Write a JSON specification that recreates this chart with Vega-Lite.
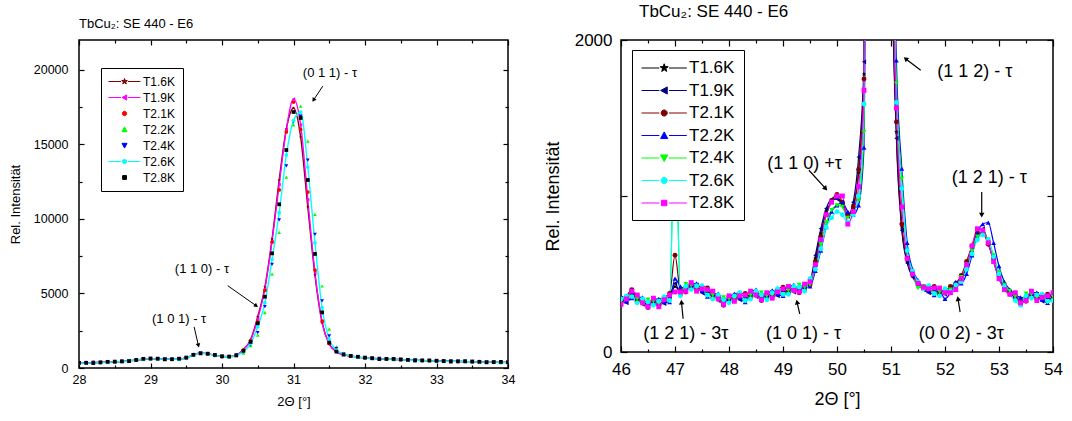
{
"$schema": "https://vega.github.io/schema/vega-lite/v6.json",
"background": "white",
"padding": {"left": 8, "top": 2, "right": 5, "bottom": 0},
"config": {
 "font": "Liberation Sans",
 "view": {"stroke": "black", "strokeWidth": 1.5},
 "axis": {"grid": false, "domain": false, "tickColor": "black", "tickWidth": 1.2, "labelColor": "black", "titleColor": "black", "titleFontWeight": "normal", "labelFont": "Liberation Sans", "titleFont": "Liberation Sans", "labelFlush": false, "labelOverlap": false},
 "legend": {"labelFont": "Liberation Sans", "labelColor": "black", "strokeColor": "black", "fillColor": "white", "symbolStrokeWidth": 1, "symbolOpacity": 1},
 "title": {"font": "Liberation Sans", "color": "black", "fontWeight": "normal", "anchor": "start", "frame": "group"}
},
"resolve": {"scale": {"color": "independent", "shape": "independent", "fill": "independent", "stroke": "independent"}, "legend": {"shape": "independent", "color": "independent", "fill": "independent", "stroke": "independent"}},
"spacing": 27,
"datasets": {
"L": [
{"s":"T1.6K","x":28,"y":330},{"s":"T1.6K","x":28.1,"y":345},{"s":"T1.6K","x":28.2,"y":355},{"s":"T1.6K","x":28.3,"y":370},{"s":"T1.6K","x":28.4,"y":390},{"s":"T1.6K","x":28.5,"y":410},{"s":"T1.6K","x":28.6,"y":440},{"s":"T1.6K","x":28.7,"y":480},{"s":"T1.6K","x":28.8,"y":530},{"s":"T1.6K","x":28.9,"y":590},{"s":"T1.6K","x":29,"y":620},{"s":"T1.6K","x":29.1,"y":620},{"s":"T1.6K","x":29.2,"y":600},{"s":"T1.6K","x":29.3,"y":580},{"s":"T1.6K","x":29.4,"y":600},{"s":"T1.6K","x":29.5,"y":680},{"s":"T1.6K","x":29.6,"y":880},{"s":"T1.6K","x":29.7,"y":1000},{"s":"T1.6K","x":29.8,"y":950},{"s":"T1.6K","x":29.9,"y":850},{"s":"T1.6K","x":30,"y":770},{"s":"T1.6K","x":30.1,"y":760},{"s":"T1.6K","x":30.2,"y":860},{"s":"T1.6K","x":30.3,"y":1250},{"s":"T1.6K","x":30.4,"y":1900},{"s":"T1.6K","x":30.5,"y":3440},{"s":"T1.6K","x":30.6,"y":5430},{"s":"T1.6K","x":30.7,"y":8650},{"s":"T1.6K","x":30.8,"y":12610},{"s":"T1.6K","x":30.9,"y":16040},{"s":"T1.6K","x":31,"y":17440},{"s":"T1.6K","x":31.1,"y":15490},{"s":"T1.6K","x":31.2,"y":10800},{"s":"T1.6K","x":31.3,"y":6240},{"s":"T1.6K","x":31.4,"y":3040},{"s":"T1.6K","x":31.5,"y":1610},{"s":"T1.6K","x":31.6,"y":1100},{"s":"T1.6K","x":31.7,"y":900},{"s":"T1.6K","x":31.8,"y":800},{"s":"T1.6K","x":31.9,"y":730},{"s":"T1.6K","x":32,"y":680},{"s":"T1.6K","x":32.1,"y":650},{"s":"T1.6K","x":32.2,"y":620},{"s":"T1.6K","x":32.3,"y":600},{"s":"T1.6K","x":32.4,"y":580},{"s":"T1.6K","x":32.5,"y":560},{"s":"T1.6K","x":32.6,"y":540},{"s":"T1.6K","x":32.7,"y":520},{"s":"T1.6K","x":32.8,"y":500},{"s":"T1.6K","x":32.9,"y":485},{"s":"T1.6K","x":33,"y":470},{"s":"T1.6K","x":33.1,"y":460},{"s":"T1.6K","x":33.2,"y":450},{"s":"T1.6K","x":33.3,"y":440},{"s":"T1.6K","x":33.4,"y":430},{"s":"T1.6K","x":33.5,"y":420},{"s":"T1.6K","x":33.6,"y":410},{"s":"T1.6K","x":33.7,"y":400},{"s":"T1.6K","x":33.8,"y":390},{"s":"T1.6K","x":33.9,"y":380},{"s":"T1.6K","x":34,"y":370},
{"s":"T1.9K","x":28,"y":340},{"s":"T1.9K","x":28.1,"y":330},{"s":"T1.9K","x":28.2,"y":360},{"s":"T1.9K","x":28.3,"y":390},{"s":"T1.9K","x":28.4,"y":380},{"s":"T1.9K","x":28.5,"y":420},{"s":"T1.9K","x":28.6,"y":425},{"s":"T1.9K","x":28.7,"y":485},{"s":"T1.9K","x":28.8,"y":550},{"s":"T1.9K","x":28.9,"y":580},{"s":"T1.9K","x":29,"y":630},{"s":"T1.9K","x":29.1,"y":605},{"s":"T1.9K","x":29.2,"y":605},{"s":"T1.9K","x":29.3,"y":600},{"s":"T1.9K","x":29.4,"y":590},{"s":"T1.9K","x":29.5,"y":690},{"s":"T1.9K","x":29.6,"y":865},{"s":"T1.9K","x":29.7,"y":1005},{"s":"T1.9K","x":29.8,"y":970},{"s":"T1.9K","x":29.9,"y":840},{"s":"T1.9K","x":30,"y":780},{"s":"T1.9K","x":30.1,"y":745},{"s":"T1.9K","x":30.2,"y":865},{"s":"T1.9K","x":30.3,"y":1230},{"s":"T1.9K","x":30.4,"y":1850},{"s":"T1.9K","x":30.5,"y":3300},{"s":"T1.9K","x":30.6,"y":5300},{"s":"T1.9K","x":30.7,"y":8500},{"s":"T1.9K","x":30.8,"y":12300},{"s":"T1.9K","x":30.9,"y":16000},{"s":"T1.9K","x":31,"y":18040},{"s":"T1.9K","x":31.1,"y":16300},{"s":"T1.9K","x":31.2,"y":11300},{"s":"T1.9K","x":31.3,"y":6400},{"s":"T1.9K","x":31.4,"y":3100},{"s":"T1.9K","x":31.5,"y":1600},{"s":"T1.9K","x":31.6,"y":1080},{"s":"T1.9K","x":31.7,"y":880},{"s":"T1.9K","x":31.8,"y":820},{"s":"T1.9K","x":31.9,"y":720},{"s":"T1.9K","x":32,"y":690},{"s":"T1.9K","x":32.1,"y":635},{"s":"T1.9K","x":32.2,"y":625},{"s":"T1.9K","x":32.3,"y":620},{"s":"T1.9K","x":32.4,"y":570},{"s":"T1.9K","x":32.5,"y":570},{"s":"T1.9K","x":32.6,"y":525},{"s":"T1.9K","x":32.7,"y":525},{"s":"T1.9K","x":32.8,"y":520},{"s":"T1.9K","x":32.9,"y":475},{"s":"T1.9K","x":33,"y":480},{"s":"T1.9K","x":33.1,"y":445},{"s":"T1.9K","x":33.2,"y":455},{"s":"T1.9K","x":33.3,"y":460},{"s":"T1.9K","x":33.4,"y":420},{"s":"T1.9K","x":33.5,"y":430},{"s":"T1.9K","x":33.6,"y":395},{"s":"T1.9K","x":33.7,"y":405},{"s":"T1.9K","x":33.8,"y":410},{"s":"T1.9K","x":33.9,"y":370},{"s":"T1.9K","x":34,"y":380},
{"s":"T2.1K","x":28,"y":310},{"s":"T2.1K","x":28.1,"y":355},{"s":"T2.1K","x":28.2,"y":370},{"s":"T2.1K","x":28.3,"y":365},{"s":"T2.1K","x":28.4,"y":390},{"s":"T2.1K","x":28.5,"y":390},{"s":"T2.1K","x":28.6,"y":450},{"s":"T2.1K","x":28.7,"y":495},{"s":"T2.1K","x":28.8,"y":525},{"s":"T2.1K","x":28.9,"y":590},{"s":"T2.1K","x":29,"y":600},{"s":"T2.1K","x":29.1,"y":630},{"s":"T2.1K","x":29.2,"y":615},{"s":"T2.1K","x":29.3,"y":575},{"s":"T2.1K","x":29.4,"y":600},{"s":"T2.1K","x":29.5,"y":660},{"s":"T2.1K","x":29.6,"y":890},{"s":"T2.1K","x":29.7,"y":1015},{"s":"T2.1K","x":29.8,"y":945},{"s":"T2.1K","x":29.9,"y":850},{"s":"T2.1K","x":30,"y":750},{"s":"T2.1K","x":30.1,"y":770},{"s":"T2.1K","x":30.2,"y":875},{"s":"T2.1K","x":30.3,"y":1220},{"s":"T2.1K","x":30.4,"y":1820},{"s":"T2.1K","x":30.5,"y":3100},{"s":"T2.1K","x":30.6,"y":5200},{"s":"T2.1K","x":30.7,"y":8450},{"s":"T2.1K","x":30.8,"y":11940},{"s":"T2.1K","x":30.9,"y":15830},{"s":"T2.1K","x":31,"y":17840},{"s":"T2.1K","x":31.1,"y":16000},{"s":"T2.1K","x":31.2,"y":11800},{"s":"T2.1K","x":31.3,"y":6570},{"s":"T2.1K","x":31.4,"y":3150},{"s":"T2.1K","x":31.5,"y":1650},{"s":"T2.1K","x":31.6,"y":1120},{"s":"T2.1K","x":31.7,"y":910},{"s":"T2.1K","x":31.8,"y":795},{"s":"T2.1K","x":31.9,"y":730},{"s":"T2.1K","x":32,"y":660},{"s":"T2.1K","x":32.1,"y":660},{"s":"T2.1K","x":32.2,"y":635},{"s":"T2.1K","x":32.3,"y":595},{"s":"T2.1K","x":32.4,"y":580},{"s":"T2.1K","x":32.5,"y":540},{"s":"T2.1K","x":32.6,"y":550},{"s":"T2.1K","x":32.7,"y":535},{"s":"T2.1K","x":32.8,"y":495},{"s":"T2.1K","x":32.9,"y":485},{"s":"T2.1K","x":33,"y":450},{"s":"T2.1K","x":33.1,"y":470},{"s":"T2.1K","x":33.2,"y":465},{"s":"T2.1K","x":33.3,"y":435},{"s":"T2.1K","x":33.4,"y":430},{"s":"T2.1K","x":33.5,"y":400},{"s":"T2.1K","x":33.6,"y":420},{"s":"T2.1K","x":33.7,"y":415},{"s":"T2.1K","x":33.8,"y":385},{"s":"T2.1K","x":33.9,"y":380},{"s":"T2.1K","x":34,"y":350},
{"s":"T2.2K","x":28,"y":345},{"s":"T2.2K","x":28.1,"y":370},{"s":"T2.2K","x":28.2,"y":345},{"s":"T2.2K","x":28.3,"y":375},{"s":"T2.2K","x":28.4,"y":420},{"s":"T2.2K","x":28.5,"y":425},{"s":"T2.2K","x":28.6,"y":465},{"s":"T2.2K","x":28.7,"y":470},{"s":"T2.2K","x":28.8,"y":535},{"s":"T2.2K","x":28.9,"y":620},{"s":"T2.2K","x":29,"y":635},{"s":"T2.2K","x":29.1,"y":645},{"s":"T2.2K","x":29.2,"y":590},{"s":"T2.2K","x":29.3,"y":585},{"s":"T2.2K","x":29.4,"y":630},{"s":"T2.2K","x":29.5,"y":695},{"s":"T2.2K","x":29.6,"y":905},{"s":"T2.2K","x":29.7,"y":990},{"s":"T2.2K","x":29.8,"y":955},{"s":"T2.2K","x":29.9,"y":880},{"s":"T2.2K","x":30,"y":785},{"s":"T2.2K","x":30.1,"y":785},{"s":"T2.2K","x":30.2,"y":850},{"s":"T2.2K","x":30.3,"y":1000},{"s":"T2.2K","x":30.4,"y":1500},{"s":"T2.2K","x":30.5,"y":2210},{"s":"T2.2K","x":30.6,"y":3710},{"s":"T2.2K","x":30.7,"y":6300},{"s":"T2.2K","x":30.8,"y":9100},{"s":"T2.2K","x":30.9,"y":12810},{"s":"T2.2K","x":31,"y":16300},{"s":"T2.2K","x":31.1,"y":17570},{"s":"T2.2K","x":31.2,"y":15220},{"s":"T2.2K","x":31.3,"y":10310},{"s":"T2.2K","x":31.4,"y":5500},{"s":"T2.2K","x":31.5,"y":2600},{"s":"T2.2K","x":31.6,"y":1430},{"s":"T2.2K","x":31.7,"y":1000},{"s":"T2.2K","x":31.8,"y":805},{"s":"T2.2K","x":31.9,"y":760},{"s":"T2.2K","x":32,"y":695},{"s":"T2.2K","x":32.1,"y":675},{"s":"T2.2K","x":32.2,"y":610},{"s":"T2.2K","x":32.3,"y":605},{"s":"T2.2K","x":32.4,"y":610},{"s":"T2.2K","x":32.5,"y":575},{"s":"T2.2K","x":32.6,"y":565},{"s":"T2.2K","x":32.7,"y":510},{"s":"T2.2K","x":32.8,"y":505},{"s":"T2.2K","x":32.9,"y":515},{"s":"T2.2K","x":33,"y":485},{"s":"T2.2K","x":33.1,"y":485},{"s":"T2.2K","x":33.2,"y":440},{"s":"T2.2K","x":33.3,"y":445},{"s":"T2.2K","x":33.4,"y":460},{"s":"T2.2K","x":33.5,"y":435},{"s":"T2.2K","x":33.6,"y":435},{"s":"T2.2K","x":33.7,"y":390},{"s":"T2.2K","x":33.8,"y":395},{"s":"T2.2K","x":33.9,"y":410},{"s":"T2.2K","x":34,"y":385},
{"s":"T2.4K","x":28,"y":320},{"s":"T2.4K","x":28.1,"y":345},{"s":"T2.4K","x":28.2,"y":375},{"s":"T2.4K","x":28.3,"y":345},{"s":"T2.4K","x":28.4,"y":400},{"s":"T2.4K","x":28.5,"y":400},{"s":"T2.4K","x":28.6,"y":440},{"s":"T2.4K","x":28.7,"y":500},{"s":"T2.4K","x":28.8,"y":505},{"s":"T2.4K","x":28.9,"y":600},{"s":"T2.4K","x":29,"y":610},{"s":"T2.4K","x":29.1,"y":620},{"s":"T2.4K","x":29.2,"y":620},{"s":"T2.4K","x":29.3,"y":555},{"s":"T2.4K","x":29.4,"y":610},{"s":"T2.4K","x":29.5,"y":670},{"s":"T2.4K","x":29.6,"y":880},{"s":"T2.4K","x":29.7,"y":1020},{"s":"T2.4K","x":29.8,"y":925},{"s":"T2.4K","x":29.9,"y":860},{"s":"T2.4K","x":30,"y":760},{"s":"T2.4K","x":30.1,"y":760},{"s":"T2.4K","x":30.2,"y":880},{"s":"T2.4K","x":30.3,"y":1050},{"s":"T2.4K","x":30.4,"y":1550},{"s":"T2.4K","x":30.5,"y":2370},{"s":"T2.4K","x":30.6,"y":4110},{"s":"T2.4K","x":30.7,"y":6950},{"s":"T2.4K","x":30.8,"y":9930},{"s":"T2.4K","x":30.9,"y":13550},{"s":"T2.4K","x":31,"y":16500},{"s":"T2.4K","x":31.1,"y":16900},{"s":"T2.4K","x":31.2,"y":13950},{"s":"T2.4K","x":31.3,"y":8970},{"s":"T2.4K","x":31.4,"y":4510},{"s":"T2.4K","x":31.5,"y":2150},{"s":"T2.4K","x":31.6,"y":1300},{"s":"T2.4K","x":31.7,"y":950},{"s":"T2.4K","x":31.8,"y":775},{"s":"T2.4K","x":31.9,"y":740},{"s":"T2.4K","x":32,"y":670},{"s":"T2.4K","x":32.1,"y":650},{"s":"T2.4K","x":32.2,"y":640},{"s":"T2.4K","x":32.3,"y":575},{"s":"T2.4K","x":32.4,"y":590},{"s":"T2.4K","x":32.5,"y":550},{"s":"T2.4K","x":32.6,"y":540},{"s":"T2.4K","x":32.7,"y":540},{"s":"T2.4K","x":32.8,"y":475},{"s":"T2.4K","x":32.9,"y":495},{"s":"T2.4K","x":33,"y":460},{"s":"T2.4K","x":33.1,"y":460},{"s":"T2.4K","x":33.2,"y":470},{"s":"T2.4K","x":33.3,"y":415},{"s":"T2.4K","x":33.4,"y":440},{"s":"T2.4K","x":33.5,"y":410},{"s":"T2.4K","x":33.6,"y":410},{"s":"T2.4K","x":33.7,"y":420},{"s":"T2.4K","x":33.8,"y":365},{"s":"T2.4K","x":33.9,"y":390},{"s":"T2.4K","x":34,"y":360},
{"s":"T2.6K","x":28,"y":335},{"s":"T2.6K","x":28.1,"y":325},{"s":"T2.6K","x":28.2,"y":350},{"s":"T2.6K","x":28.3,"y":385},{"s":"T2.6K","x":28.4,"y":375},{"s":"T2.6K","x":28.5,"y":415},{"s":"T2.6K","x":28.6,"y":420},{"s":"T2.6K","x":28.7,"y":475},{"s":"T2.6K","x":28.8,"y":545},{"s":"T2.6K","x":28.9,"y":575},{"s":"T2.6K","x":29,"y":625},{"s":"T2.6K","x":29.1,"y":600},{"s":"T2.6K","x":29.2,"y":595},{"s":"T2.6K","x":29.3,"y":595},{"s":"T2.6K","x":29.4,"y":585},{"s":"T2.6K","x":29.5,"y":685},{"s":"T2.6K","x":29.6,"y":860},{"s":"T2.6K","x":29.7,"y":995},{"s":"T2.6K","x":29.8,"y":965},{"s":"T2.6K","x":29.9,"y":835},{"s":"T2.6K","x":30,"y":775},{"s":"T2.6K","x":30.1,"y":740},{"s":"T2.6K","x":30.2,"y":855},{"s":"T2.6K","x":30.3,"y":1100},{"s":"T2.6K","x":30.4,"y":1650},{"s":"T2.6K","x":30.5,"y":2770},{"s":"T2.6K","x":30.6,"y":4380},{"s":"T2.6K","x":30.7,"y":7290},{"s":"T2.6K","x":30.8,"y":10420},{"s":"T2.6K","x":30.9,"y":14290},{"s":"T2.6K","x":31,"y":16600},{"s":"T2.6K","x":31.1,"y":17170},{"s":"T2.6K","x":31.2,"y":13480},{"s":"T2.6K","x":31.3,"y":8400},{"s":"T2.6K","x":31.4,"y":4040},{"s":"T2.6K","x":31.5,"y":1920},{"s":"T2.6K","x":31.6,"y":1200},{"s":"T2.6K","x":31.7,"y":930},{"s":"T2.6K","x":31.8,"y":815},{"s":"T2.6K","x":31.9,"y":715},{"s":"T2.6K","x":32,"y":685},{"s":"T2.6K","x":32.1,"y":630},{"s":"T2.6K","x":32.2,"y":615},{"s":"T2.6K","x":32.3,"y":615},{"s":"T2.6K","x":32.4,"y":565},{"s":"T2.6K","x":32.5,"y":565},{"s":"T2.6K","x":32.6,"y":520},{"s":"T2.6K","x":32.7,"y":515},{"s":"T2.6K","x":32.8,"y":515},{"s":"T2.6K","x":32.9,"y":470},{"s":"T2.6K","x":33,"y":475},{"s":"T2.6K","x":33.1,"y":440},{"s":"T2.6K","x":33.2,"y":445},{"s":"T2.6K","x":33.3,"y":455},{"s":"T2.6K","x":33.4,"y":415},{"s":"T2.6K","x":33.5,"y":425},{"s":"T2.6K","x":33.6,"y":390},{"s":"T2.6K","x":33.7,"y":395},{"s":"T2.6K","x":33.8,"y":405},{"s":"T2.6K","x":33.9,"y":365},{"s":"T2.6K","x":34,"y":375},
{"s":"T2.8K","x":28,"y":350},{"s":"T2.8K","x":28.1,"y":350},{"s":"T2.8K","x":28.2,"y":335},{"s":"T2.8K","x":28.3,"y":380},{"s":"T2.8K","x":28.4,"y":415},{"s":"T2.8K","x":28.5,"y":430},{"s":"T2.8K","x":28.6,"y":445},{"s":"T2.8K","x":28.7,"y":460},{"s":"T2.8K","x":28.8,"y":540},{"s":"T2.8K","x":28.9,"y":615},{"s":"T2.8K","x":29,"y":640},{"s":"T2.8K","x":29.1,"y":625},{"s":"T2.8K","x":29.2,"y":580},{"s":"T2.8K","x":29.3,"y":590},{"s":"T2.8K","x":29.4,"y":625},{"s":"T2.8K","x":29.5,"y":700},{"s":"T2.8K","x":29.6,"y":885},{"s":"T2.8K","x":29.7,"y":980},{"s":"T2.8K","x":29.8,"y":960},{"s":"T2.8K","x":29.9,"y":875},{"s":"T2.8K","x":30,"y":790},{"s":"T2.8K","x":30.1,"y":765},{"s":"T2.8K","x":30.2,"y":840},{"s":"T2.8K","x":30.3,"y":1150},{"s":"T2.8K","x":30.4,"y":1750},{"s":"T2.8K","x":30.5,"y":3000},{"s":"T2.8K","x":30.6,"y":4780},{"s":"T2.8K","x":30.7,"y":7690},{"s":"T2.8K","x":30.8,"y":10980},{"s":"T2.8K","x":30.9,"y":14620},{"s":"T2.8K","x":31,"y":17170},{"s":"T2.8K","x":31.1,"y":16770},{"s":"T2.8K","x":31.2,"y":12610},{"s":"T2.8K","x":31.3,"y":7650},{"s":"T2.8K","x":31.4,"y":3730},{"s":"T2.8K","x":31.5,"y":1700},{"s":"T2.8K","x":31.6,"y":1100},{"s":"T2.8K","x":31.7,"y":900},{"s":"T2.8K","x":31.8,"y":810},{"s":"T2.8K","x":31.9,"y":755},{"s":"T2.8K","x":32,"y":700},{"s":"T2.8K","x":32.1,"y":655},{"s":"T2.8K","x":32.2,"y":600},{"s":"T2.8K","x":32.3,"y":610},{"s":"T2.8K","x":32.4,"y":605},{"s":"T2.8K","x":32.5,"y":580},{"s":"T2.8K","x":32.6,"y":545},{"s":"T2.8K","x":32.7,"y":500},{"s":"T2.8K","x":32.8,"y":510},{"s":"T2.8K","x":32.9,"y":510},{"s":"T2.8K","x":33,"y":490},{"s":"T2.8K","x":33.1,"y":465},{"s":"T2.8K","x":33.2,"y":430},{"s":"T2.8K","x":33.3,"y":450},{"s":"T2.8K","x":33.4,"y":455},{"s":"T2.8K","x":33.5,"y":440},{"s":"T2.8K","x":33.6,"y":415},{"s":"T2.8K","x":33.7,"y":380},{"s":"T2.8K","x":33.8,"y":400},{"s":"T2.8K","x":33.9,"y":405},{"s":"T2.8K","x":34,"y":390}
],
"R": [
{"s":"T1.6K","x":46,"y":330},{"s":"T1.6K","x":46.1,"y":335},{"s":"T1.6K","x":46.2,"y":370},{"s":"T1.6K","x":46.3,"y":335},{"s":"T1.6K","x":46.4,"y":320},{"s":"T1.6K","x":46.5,"y":310},{"s":"T1.6K","x":46.6,"y":325},{"s":"T1.6K","x":46.7,"y":315},{"s":"T1.6K","x":46.8,"y":330},{"s":"T1.6K","x":46.9,"y":345},{"s":"T1.6K","x":47,"y":420},{"s":"T1.6K","x":47.1,"y":390},{"s":"T1.6K","x":47.2,"y":410},{"s":"T1.6K","x":47.3,"y":425},{"s":"T1.6K","x":47.4,"y":415},{"s":"T1.6K","x":47.5,"y":400},{"s":"T1.6K","x":47.6,"y":380},{"s":"T1.6K","x":47.7,"y":360},{"s":"T1.6K","x":47.8,"y":345},{"s":"T1.6K","x":47.9,"y":325},{"s":"T1.6K","x":48,"y":340},{"s":"T1.6K","x":48.1,"y":350},{"s":"T1.6K","x":48.2,"y":355},{"s":"T1.6K","x":48.3,"y":345},{"s":"T1.6K","x":48.4,"y":360},{"s":"T1.6K","x":48.5,"y":370},{"s":"T1.6K","x":48.6,"y":355},{"s":"T1.6K","x":48.7,"y":360},{"s":"T1.6K","x":48.8,"y":370},{"s":"T1.6K","x":48.9,"y":380},{"s":"T1.6K","x":49,"y":385},{"s":"T1.6K","x":49.1,"y":390},{"s":"T1.6K","x":49.2,"y":400},{"s":"T1.6K","x":49.3,"y":405},{"s":"T1.6K","x":49.4,"y":415},{"s":"T1.6K","x":49.5,"y":440},{"s":"T1.6K","x":49.6,"y":600},{"s":"T1.6K","x":49.7,"y":760},{"s":"T1.6K","x":49.8,"y":900},{"s":"T1.6K","x":49.9,"y":960},{"s":"T1.6K","x":50,"y":990},{"s":"T1.6K","x":50.1,"y":950},{"s":"T1.6K","x":50.2,"y":880},{"s":"T1.6K","x":50.3,"y":940},{"s":"T1.6K","x":50.4,"y":1150},{"s":"T1.6K","x":50.5,"y":1780},{"s":"T1.6K","x":50.6,"y":6000},{"s":"T1.6K","x":50.7,"y":14000},{"s":"T1.6K","x":50.8,"y":15500},{"s":"T1.6K","x":50.9,"y":8500},{"s":"T1.6K","x":51,"y":3000},{"s":"T1.6K","x":51.1,"y":1410},{"s":"T1.6K","x":51.2,"y":800},{"s":"T1.6K","x":51.3,"y":580},{"s":"T1.6K","x":51.4,"y":490},{"s":"T1.6K","x":51.5,"y":440},{"s":"T1.6K","x":51.6,"y":415},{"s":"T1.6K","x":51.7,"y":400},{"s":"T1.6K","x":51.8,"y":390},{"s":"T1.6K","x":51.9,"y":380},{"s":"T1.6K","x":52,"y":385},{"s":"T1.6K","x":52.1,"y":395},{"s":"T1.6K","x":52.2,"y":420},{"s":"T1.6K","x":52.3,"y":470},{"s":"T1.6K","x":52.4,"y":540},{"s":"T1.6K","x":52.5,"y":640},{"s":"T1.6K","x":52.6,"y":740},{"s":"T1.6K","x":52.7,"y":770},{"s":"T1.6K","x":52.8,"y":700},{"s":"T1.6K","x":52.9,"y":590},{"s":"T1.6K","x":53,"y":480},{"s":"T1.6K","x":53.1,"y":420},{"s":"T1.6K","x":53.2,"y":380},{"s":"T1.6K","x":53.3,"y":350},{"s":"T1.6K","x":53.4,"y":320},{"s":"T1.6K","x":53.5,"y":350},{"s":"T1.6K","x":53.6,"y":370},{"s":"T1.6K","x":53.7,"y":355},{"s":"T1.6K","x":53.8,"y":345},{"s":"T1.6K","x":53.9,"y":340},{"s":"T1.6K","x":54,"y":350},
{"s":"T1.9K","x":46,"y":345},{"s":"T1.9K","x":46.1,"y":315},{"s":"T1.9K","x":46.2,"y":380},{"s":"T1.9K","x":46.3,"y":360},{"s":"T1.9K","x":46.4,"y":305},{"s":"T1.9K","x":46.5,"y":315},{"s":"T1.9K","x":46.6,"y":315},{"s":"T1.9K","x":46.7,"y":330},{"s":"T1.9K","x":46.8,"y":310},{"s":"T1.9K","x":46.9,"y":355},{"s":"T1.9K","x":47,"y":440},{"s":"T1.9K","x":47.1,"y":375},{"s":"T1.9K","x":47.2,"y":415},{"s":"T1.9K","x":47.3,"y":415},{"s":"T1.9K","x":47.4,"y":430},{"s":"T1.9K","x":47.5,"y":380},{"s":"T1.9K","x":47.6,"y":390},{"s":"T1.9K","x":47.7,"y":385},{"s":"T1.9K","x":47.8,"y":330},{"s":"T1.9K","x":47.9,"y":330},{"s":"T1.9K","x":48,"y":330},{"s":"T1.9K","x":48.1,"y":365},{"s":"T1.9K","x":48.2,"y":335},{"s":"T1.9K","x":48.3,"y":355},{"s":"T1.9K","x":48.4,"y":385},{"s":"T1.9K","x":48.5,"y":355},{"s":"T1.9K","x":48.6,"y":360},{"s":"T1.9K","x":48.7,"y":350},{"s":"T1.9K","x":48.8,"y":385},{"s":"T1.9K","x":48.9,"y":360},{"s":"T1.9K","x":49,"y":395},{"s":"T1.9K","x":49.1,"y":415},{"s":"T1.9K","x":49.2,"y":385},{"s":"T1.9K","x":49.3,"y":410},{"s":"T1.9K","x":49.4,"y":405},{"s":"T1.9K","x":49.5,"y":450},{"s":"T1.9K","x":49.6,"y":620},{"s":"T1.9K","x":49.7,"y":790},{"s":"T1.9K","x":49.8,"y":920},{"s":"T1.9K","x":49.9,"y":980},{"s":"T1.9K","x":50,"y":980},{"s":"T1.9K","x":50.1,"y":940},{"s":"T1.9K","x":50.2,"y":870},{"s":"T1.9K","x":50.3,"y":960},{"s":"T1.9K","x":50.4,"y":1250},{"s":"T1.9K","x":50.5,"y":1860},{"s":"T1.9K","x":50.6,"y":6500},{"s":"T1.9K","x":50.7,"y":14500},{"s":"T1.9K","x":50.8,"y":15000},{"s":"T1.9K","x":50.9,"y":8000},{"s":"T1.9K","x":51,"y":2900},{"s":"T1.9K","x":51.1,"y":1370},{"s":"T1.9K","x":51.2,"y":780},{"s":"T1.9K","x":51.3,"y":570},{"s":"T1.9K","x":51.4,"y":480},{"s":"T1.9K","x":51.5,"y":430},{"s":"T1.9K","x":51.6,"y":400},{"s":"T1.9K","x":51.7,"y":380},{"s":"T1.9K","x":51.8,"y":400},{"s":"T1.9K","x":51.9,"y":405},{"s":"T1.9K","x":52,"y":370},{"s":"T1.9K","x":52.1,"y":410},{"s":"T1.9K","x":52.2,"y":430},{"s":"T1.9K","x":52.3,"y":480},{"s":"T1.9K","x":52.4,"y":560},{"s":"T1.9K","x":52.5,"y":670},{"s":"T1.9K","x":52.6,"y":780},{"s":"T1.9K","x":52.7,"y":790},{"s":"T1.9K","x":52.8,"y":700},{"s":"T1.9K","x":52.9,"y":580},{"s":"T1.9K","x":53,"y":470},{"s":"T1.9K","x":53.1,"y":410},{"s":"T1.9K","x":53.2,"y":370},{"s":"T1.9K","x":53.3,"y":375},{"s":"T1.9K","x":53.4,"y":305},{"s":"T1.9K","x":53.5,"y":355},{"s":"T1.9K","x":53.6,"y":360},{"s":"T1.9K","x":53.7,"y":370},{"s":"T1.9K","x":53.8,"y":325},{"s":"T1.9K","x":53.9,"y":350},{"s":"T1.9K","x":54,"y":375},
{"s":"T2.1K","x":46,"y":315},{"s":"T2.1K","x":46.1,"y":355},{"s":"T2.1K","x":46.2,"y":400},{"s":"T2.1K","x":46.3,"y":325},{"s":"T2.1K","x":46.4,"y":325},{"s":"T2.1K","x":46.5,"y":285},{"s":"T2.1K","x":46.6,"y":340},{"s":"T2.1K","x":46.7,"y":300},{"s":"T2.1K","x":46.8,"y":350},{"s":"T2.1K","x":46.9,"y":375},{"s":"T2.1K","x":47,"y":620},{"s":"T2.1K","x":47.1,"y":395},{"s":"T2.1K","x":47.2,"y":385},{"s":"T2.1K","x":47.3,"y":440},{"s":"T2.1K","x":47.4,"y":400},{"s":"T2.1K","x":47.5,"y":420},{"s":"T2.1K","x":47.6,"y":410},{"s":"T2.1K","x":47.7,"y":350},{"s":"T2.1K","x":47.8,"y":350},{"s":"T2.1K","x":47.9,"y":300},{"s":"T2.1K","x":48,"y":355},{"s":"T2.1K","x":48.1,"y":335},{"s":"T2.1K","x":48.2,"y":375},{"s":"T2.1K","x":48.3,"y":375},{"s":"T2.1K","x":48.4,"y":350},{"s":"T2.1K","x":48.5,"y":375},{"s":"T2.1K","x":48.6,"y":330},{"s":"T2.1K","x":48.7,"y":375},{"s":"T2.1K","x":48.8,"y":355},{"s":"T2.1K","x":48.9,"y":400},{"s":"T2.1K","x":49,"y":415},{"s":"T2.1K","x":49.1,"y":380},{"s":"T2.1K","x":49.2,"y":405},{"s":"T2.1K","x":49.3,"y":380},{"s":"T2.1K","x":49.4,"y":430},{"s":"T2.1K","x":49.5,"y":430},{"s":"T2.1K","x":49.6,"y":580},{"s":"T2.1K","x":49.7,"y":740},{"s":"T2.1K","x":49.8,"y":880},{"s":"T2.1K","x":49.9,"y":970},{"s":"T2.1K","x":50,"y":1010},{"s":"T2.1K","x":50.1,"y":960},{"s":"T2.1K","x":50.2,"y":880},{"s":"T2.1K","x":50.3,"y":930},{"s":"T2.1K","x":50.4,"y":1170},{"s":"T2.1K","x":50.5,"y":1750},{"s":"T2.1K","x":50.6,"y":6200},{"s":"T2.1K","x":50.7,"y":14200},{"s":"T2.1K","x":50.8,"y":15200},{"s":"T2.1K","x":50.9,"y":8300},{"s":"T2.1K","x":51,"y":3100},{"s":"T2.1K","x":51.1,"y":1475},{"s":"T2.1K","x":51.2,"y":820},{"s":"T2.1K","x":51.3,"y":600},{"s":"T2.1K","x":51.4,"y":500},{"s":"T2.1K","x":51.5,"y":445},{"s":"T2.1K","x":51.6,"y":420},{"s":"T2.1K","x":51.7,"y":420},{"s":"T2.1K","x":51.8,"y":420},{"s":"T2.1K","x":51.9,"y":370},{"s":"T2.1K","x":52,"y":390},{"s":"T2.1K","x":52.1,"y":420},{"s":"T2.1K","x":52.2,"y":440},{"s":"T2.1K","x":52.3,"y":490},{"s":"T2.1K","x":52.4,"y":580},{"s":"T2.1K","x":52.5,"y":680},{"s":"T2.1K","x":52.6,"y":760},{"s":"T2.1K","x":52.7,"y":760},{"s":"T2.1K","x":52.8,"y":690},{"s":"T2.1K","x":52.9,"y":600},{"s":"T2.1K","x":53,"y":490},{"s":"T2.1K","x":53.1,"y":420},{"s":"T2.1K","x":53.2,"y":390},{"s":"T2.1K","x":53.3,"y":340},{"s":"T2.1K","x":53.4,"y":325},{"s":"T2.1K","x":53.5,"y":325},{"s":"T2.1K","x":53.6,"y":385},{"s":"T2.1K","x":53.7,"y":340},{"s":"T2.1K","x":53.8,"y":365},{"s":"T2.1K","x":53.9,"y":370},{"s":"T2.1K","x":54,"y":340},
{"s":"T2.2K","x":46,"y":355},{"s":"T2.2K","x":46.1,"y":325},{"s":"T2.2K","x":46.2,"y":345},{"s":"T2.2K","x":46.3,"y":350},{"s":"T2.2K","x":46.4,"y":350},{"s":"T2.2K","x":46.5,"y":305},{"s":"T2.2K","x":46.6,"y":335},{"s":"T2.2K","x":46.7,"y":340},{"s":"T2.2K","x":46.8,"y":320},{"s":"T2.2K","x":46.9,"y":320},{"s":"T2.2K","x":47,"y":470},{"s":"T2.2K","x":47.1,"y":420},{"s":"T2.2K","x":47.2,"y":405},{"s":"T2.2K","x":47.3,"y":435},{"s":"T2.2K","x":47.4,"y":440},{"s":"T2.2K","x":47.5,"y":390},{"s":"T2.2K","x":47.6,"y":355},{"s":"T2.2K","x":47.7,"y":375},{"s":"T2.2K","x":47.8,"y":375},{"s":"T2.2K","x":47.9,"y":320},{"s":"T2.2K","x":48,"y":350},{"s":"T2.2K","x":48.1,"y":375},{"s":"T2.2K","x":48.2,"y":345},{"s":"T2.2K","x":48.3,"y":320},{"s":"T2.2K","x":48.4,"y":375},{"s":"T2.2K","x":48.5,"y":400},{"s":"T2.2K","x":48.6,"y":350},{"s":"T2.2K","x":48.7,"y":370},{"s":"T2.2K","x":48.8,"y":395},{"s":"T2.2K","x":48.9,"y":370},{"s":"T2.2K","x":49,"y":360},{"s":"T2.2K","x":49.1,"y":405},{"s":"T2.2K","x":49.2,"y":430},{"s":"T2.2K","x":49.3,"y":400},{"s":"T2.2K","x":49.4,"y":425},{"s":"T2.2K","x":49.5,"y":420},{"s":"T2.2K","x":49.6,"y":520},{"s":"T2.2K","x":49.7,"y":650},{"s":"T2.2K","x":49.8,"y":800},{"s":"T2.2K","x":49.9,"y":900},{"s":"T2.2K","x":50,"y":940},{"s":"T2.2K","x":50.1,"y":960},{"s":"T2.2K","x":50.2,"y":900},{"s":"T2.2K","x":50.3,"y":880},{"s":"T2.2K","x":50.4,"y":940},{"s":"T2.2K","x":50.5,"y":1310},{"s":"T2.2K","x":50.6,"y":4500},{"s":"T2.2K","x":50.7,"y":12000},{"s":"T2.2K","x":50.8,"y":16000},{"s":"T2.2K","x":50.9,"y":10000},{"s":"T2.2K","x":51,"y":4200},{"s":"T2.2K","x":51.1,"y":1870},{"s":"T2.2K","x":51.2,"y":1175},{"s":"T2.2K","x":51.3,"y":700},{"s":"T2.2K","x":51.4,"y":530},{"s":"T2.2K","x":51.5,"y":460},{"s":"T2.2K","x":51.6,"y":410},{"s":"T2.2K","x":51.7,"y":390},{"s":"T2.2K","x":51.8,"y":365},{"s":"T2.2K","x":51.9,"y":395},{"s":"T2.2K","x":52,"y":340},{"s":"T2.2K","x":52.1,"y":380},{"s":"T2.2K","x":52.2,"y":450},{"s":"T2.2K","x":52.3,"y":440},{"s":"T2.2K","x":52.4,"y":500},{"s":"T2.2K","x":52.5,"y":620},{"s":"T2.2K","x":52.6,"y":760},{"s":"T2.2K","x":52.7,"y":820},{"s":"T2.2K","x":52.8,"y":830},{"s":"T2.2K","x":52.9,"y":700},{"s":"T2.2K","x":53,"y":550},{"s":"T2.2K","x":53.1,"y":450},{"s":"T2.2K","x":53.2,"y":400},{"s":"T2.2K","x":53.3,"y":365},{"s":"T2.2K","x":53.4,"y":350},{"s":"T2.2K","x":53.5,"y":345},{"s":"T2.2K","x":53.6,"y":380},{"s":"T2.2K","x":53.7,"y":380},{"s":"T2.2K","x":53.8,"y":335},{"s":"T2.2K","x":53.9,"y":315},{"s":"T2.2K","x":54,"y":365},
{"s":"T2.4K","x":46,"y":325},{"s":"T2.4K","x":46.1,"y":350},{"s":"T2.4K","x":46.2,"y":350},{"s":"T2.4K","x":46.3,"y":340},{"s":"T2.4K","x":46.4,"y":305},{"s":"T2.4K","x":46.5,"y":335},{"s":"T2.4K","x":46.6,"y":325},{"s":"T2.4K","x":46.7,"y":310},{"s":"T2.4K","x":46.8,"y":345},{"s":"T2.4K","x":46.9,"y":325},{"s":"T2.4K","x":47,"y":1600},{"s":"T2.4K","x":47.1,"y":375},{"s":"T2.4K","x":47.2,"y":435},{"s":"T2.4K","x":47.3,"y":425},{"s":"T2.4K","x":47.4,"y":410},{"s":"T2.4K","x":47.5,"y":415},{"s":"T2.4K","x":47.6,"y":360},{"s":"T2.4K","x":47.7,"y":365},{"s":"T2.4K","x":47.8,"y":330},{"s":"T2.4K","x":47.9,"y":350},{"s":"T2.4K","x":48,"y":340},{"s":"T2.4K","x":48.1,"y":345},{"s":"T2.4K","x":48.2,"y":370},{"s":"T2.4K","x":48.3,"y":325},{"s":"T2.4K","x":48.4,"y":365},{"s":"T2.4K","x":48.5,"y":355},{"s":"T2.4K","x":48.6,"y":380},{"s":"T2.4K","x":48.7,"y":360},{"s":"T2.4K","x":48.8,"y":365},{"s":"T2.4K","x":48.9,"y":395},{"s":"T2.4K","x":49,"y":365},{"s":"T2.4K","x":49.1,"y":395},{"s":"T2.4K","x":49.2,"y":385},{"s":"T2.4K","x":49.3,"y":430},{"s":"T2.4K","x":49.4,"y":415},{"s":"T2.4K","x":49.5,"y":430},{"s":"T2.4K","x":49.6,"y":540},{"s":"T2.4K","x":49.7,"y":690},{"s":"T2.4K","x":49.8,"y":830},{"s":"T2.4K","x":49.9,"y":910},{"s":"T2.4K","x":50,"y":940},{"s":"T2.4K","x":50.1,"y":930},{"s":"T2.4K","x":50.2,"y":860},{"s":"T2.4K","x":50.3,"y":900},{"s":"T2.4K","x":50.4,"y":970},{"s":"T2.4K","x":50.5,"y":1410},{"s":"T2.4K","x":50.6,"y":5000},{"s":"T2.4K","x":50.7,"y":12800},{"s":"T2.4K","x":50.8,"y":15800},{"s":"T2.4K","x":50.9,"y":9500},{"s":"T2.4K","x":51,"y":3800},{"s":"T2.4K","x":51.1,"y":1720},{"s":"T2.4K","x":51.2,"y":1110},{"s":"T2.4K","x":51.3,"y":640},{"s":"T2.4K","x":51.4,"y":510},{"s":"T2.4K","x":51.5,"y":410},{"s":"T2.4K","x":51.6,"y":420},{"s":"T2.4K","x":51.7,"y":415},{"s":"T2.4K","x":51.8,"y":370},{"s":"T2.4K","x":51.9,"y":385},{"s":"T2.4K","x":52,"y":370},{"s":"T2.4K","x":52.1,"y":400},{"s":"T2.4K","x":52.2,"y":420},{"s":"T2.4K","x":52.3,"y":480},{"s":"T2.4K","x":52.4,"y":560},{"s":"T2.4K","x":52.5,"y":650},{"s":"T2.4K","x":52.6,"y":740},{"s":"T2.4K","x":52.7,"y":770},{"s":"T2.4K","x":52.8,"y":720},{"s":"T2.4K","x":52.9,"y":620},{"s":"T2.4K","x":53,"y":510},{"s":"T2.4K","x":53.1,"y":430},{"s":"T2.4K","x":53.2,"y":390},{"s":"T2.4K","x":53.3,"y":355},{"s":"T2.4K","x":53.4,"y":305},{"s":"T2.4K","x":53.5,"y":375},{"s":"T2.4K","x":53.6,"y":370},{"s":"T2.4K","x":53.7,"y":350},{"s":"T2.4K","x":53.8,"y":360},{"s":"T2.4K","x":53.9,"y":320},{"s":"T2.4K","x":54,"y":355},
{"s":"T2.6K","x":46,"y":340},{"s":"T2.6K","x":46.1,"y":360},{"s":"T2.6K","x":46.2,"y":355},{"s":"T2.6K","x":46.3,"y":315},{"s":"T2.6K","x":46.4,"y":340},{"s":"T2.6K","x":46.5,"y":320},{"s":"T2.6K","x":46.6,"y":300},{"s":"T2.6K","x":46.7,"y":325},{"s":"T2.6K","x":46.8,"y":355},{"s":"T2.6K","x":46.9,"y":330},{"s":"T2.6K","x":47,"y":1500},{"s":"T2.6K","x":47.1,"y":360},{"s":"T2.6K","x":47.2,"y":420},{"s":"T2.6K","x":47.3,"y":400},{"s":"T2.6K","x":47.4,"y":425},{"s":"T2.6K","x":47.5,"y":425},{"s":"T2.6K","x":47.6,"y":365},{"s":"T2.6K","x":47.7,"y":340},{"s":"T2.6K","x":47.8,"y":365},{"s":"T2.6K","x":47.9,"y":335},{"s":"T2.6K","x":48,"y":315},{"s":"T2.6K","x":48.1,"y":360},{"s":"T2.6K","x":48.2,"y":380},{"s":"T2.6K","x":48.3,"y":330},{"s":"T2.6K","x":48.4,"y":340},{"s":"T2.6K","x":48.5,"y":390},{"s":"T2.6K","x":48.6,"y":365},{"s":"T2.6K","x":48.7,"y":335},{"s":"T2.6K","x":48.8,"y":380},{"s":"T2.6K","x":48.9,"y":405},{"s":"T2.6K","x":49,"y":370},{"s":"T2.6K","x":49.1,"y":370},{"s":"T2.6K","x":49.2,"y":420},{"s":"T2.6K","x":49.3,"y":415},{"s":"T2.6K","x":49.4,"y":390},{"s":"T2.6K","x":49.5,"y":470},{"s":"T2.6K","x":49.6,"y":530},{"s":"T2.6K","x":49.7,"y":660},{"s":"T2.6K","x":49.8,"y":800},{"s":"T2.6K","x":49.9,"y":860},{"s":"T2.6K","x":50,"y":900},{"s":"T2.6K","x":50.1,"y":880},{"s":"T2.6K","x":50.2,"y":830},{"s":"T2.6K","x":50.3,"y":880},{"s":"T2.6K","x":50.4,"y":1000},{"s":"T2.6K","x":50.5,"y":1590},{"s":"T2.6K","x":50.6,"y":5300},{"s":"T2.6K","x":50.7,"y":13200},{"s":"T2.6K","x":50.8,"y":15600},{"s":"T2.6K","x":50.9,"y":9200},{"s":"T2.6K","x":51,"y":3500},{"s":"T2.6K","x":51.1,"y":1600},{"s":"T2.6K","x":51.2,"y":1047},{"s":"T2.6K","x":51.3,"y":650},{"s":"T2.6K","x":51.4,"y":520},{"s":"T2.6K","x":51.5,"y":450},{"s":"T2.6K","x":51.6,"y":405},{"s":"T2.6K","x":51.7,"y":425},{"s":"T2.6K","x":51.8,"y":375},{"s":"T2.6K","x":51.9,"y":360},{"s":"T2.6K","x":52,"y":405},{"s":"T2.6K","x":52.1,"y":390},{"s":"T2.6K","x":52.2,"y":430},{"s":"T2.6K","x":52.3,"y":450},{"s":"T2.6K","x":52.4,"y":530},{"s":"T2.6K","x":52.5,"y":630},{"s":"T2.6K","x":52.6,"y":720},{"s":"T2.6K","x":52.7,"y":750},{"s":"T2.6K","x":52.8,"y":720},{"s":"T2.6K","x":52.9,"y":610},{"s":"T2.6K","x":53,"y":500},{"s":"T2.6K","x":53.1,"y":420},{"s":"T2.6K","x":53.2,"y":370},{"s":"T2.6K","x":53.3,"y":330},{"s":"T2.6K","x":53.4,"y":300},{"s":"T2.6K","x":53.5,"y":360},{"s":"T2.6K","x":53.6,"y":345},{"s":"T2.6K","x":53.7,"y":365},{"s":"T2.6K","x":53.8,"y":370},{"s":"T2.6K","x":53.9,"y":325},{"s":"T2.6K","x":54,"y":330},
{"s":"T2.8K","x":46,"y":305},{"s":"T2.8K","x":46.1,"y":340},{"s":"T2.8K","x":46.2,"y":390},{"s":"T2.8K","x":46.3,"y":365},{"s":"T2.8K","x":46.4,"y":315},{"s":"T2.8K","x":46.5,"y":290},{"s":"T2.8K","x":46.6,"y":345},{"s":"T2.8K","x":46.7,"y":290},{"s":"T2.8K","x":46.8,"y":335},{"s":"T2.8K","x":46.9,"y":365},{"s":"T2.8K","x":47,"y":385},{"s":"T2.8K","x":47.1,"y":385},{"s":"T2.8K","x":47.2,"y":390},{"s":"T2.8K","x":47.3,"y":445},{"s":"T2.8K","x":47.4,"y":390},{"s":"T2.8K","x":47.5,"y":405},{"s":"T2.8K","x":47.6,"y":400},{"s":"T2.8K","x":47.7,"y":390},{"s":"T2.8K","x":47.8,"y":340},{"s":"T2.8K","x":47.9,"y":305},{"s":"T2.8K","x":48,"y":360},{"s":"T2.8K","x":48.1,"y":325},{"s":"T2.8K","x":48.2,"y":360},{"s":"T2.8K","x":48.3,"y":365},{"s":"T2.8K","x":48.4,"y":390},{"s":"T2.8K","x":48.5,"y":365},{"s":"T2.8K","x":48.6,"y":335},{"s":"T2.8K","x":48.7,"y":380},{"s":"T2.8K","x":48.8,"y":345},{"s":"T2.8K","x":48.9,"y":385},{"s":"T2.8K","x":49,"y":405},{"s":"T2.8K","x":49.1,"y":420},{"s":"T2.8K","x":49.2,"y":395},{"s":"T2.8K","x":49.3,"y":385},{"s":"T2.8K","x":49.4,"y":435},{"s":"T2.8K","x":49.5,"y":450},{"s":"T2.8K","x":49.6,"y":560},{"s":"T2.8K","x":49.7,"y":720},{"s":"T2.8K","x":49.8,"y":880},{"s":"T2.8K","x":49.9,"y":960},{"s":"T2.8K","x":50,"y":1000},{"s":"T2.8K","x":50.1,"y":1000},{"s":"T2.8K","x":50.2,"y":820},{"s":"T2.8K","x":50.3,"y":900},{"s":"T2.8K","x":50.4,"y":1060},{"s":"T2.8K","x":50.5,"y":1677},{"s":"T2.8K","x":50.6,"y":5600},{"s":"T2.8K","x":50.7,"y":13500},{"s":"T2.8K","x":50.8,"y":15500},{"s":"T2.8K","x":50.9,"y":8800},{"s":"T2.8K","x":51,"y":3300},{"s":"T2.8K","x":51.1,"y":1564},{"s":"T2.8K","x":51.2,"y":930},{"s":"T2.8K","x":51.3,"y":598},{"s":"T2.8K","x":51.4,"y":500},{"s":"T2.8K","x":51.5,"y":440},{"s":"T2.8K","x":51.6,"y":415},{"s":"T2.8K","x":51.7,"y":405},{"s":"T2.8K","x":51.8,"y":410},{"s":"T2.8K","x":51.9,"y":410},{"s":"T2.8K","x":52,"y":380},{"s":"T2.8K","x":52.1,"y":380},{"s":"T2.8K","x":52.2,"y":400},{"s":"T2.8K","x":52.3,"y":470},{"s":"T2.8K","x":52.4,"y":560},{"s":"T2.8K","x":52.5,"y":680},{"s":"T2.8K","x":52.6,"y":790},{"s":"T2.8K","x":52.7,"y":780},{"s":"T2.8K","x":52.8,"y":700},{"s":"T2.8K","x":52.9,"y":580},{"s":"T2.8K","x":53,"y":470},{"s":"T2.8K","x":53.1,"y":400},{"s":"T2.8K","x":53.2,"y":370},{"s":"T2.8K","x":53.3,"y":380},{"s":"T2.8K","x":53.4,"y":315},{"s":"T2.8K","x":53.5,"y":330},{"s":"T2.8K","x":53.6,"y":390},{"s":"T2.8K","x":53.7,"y":330},{"s":"T2.8K","x":53.8,"y":350},{"s":"T2.8K","x":53.9,"y":360},{"s":"T2.8K","x":54,"y":380}
]
},
"hconcat": [
{
 "width": 429, "height": 328,
 "title": {"text": "TbCu₂: SE 440 - E6", "fontSize": 13, "offset": 8},
 "resolve": {"axis": {"x": "independent", "y": "independent"}, "scale": {"shape": "independent", "fill": "independent", "stroke": "independent"}, "legend": {"shape": "independent", "fill": "independent", "stroke": "independent"}},
 "layer": [
  {"data": {"name": "L"},
   "transform": [{"filter": {"field": "s", "oneOf": ["T1.6K", "T1.9K", "T2.6K"]}}],
   "mark": {"type": "line", "interpolate": "monotone", "strokeWidth": 1.4, "clip": true},
   "encoding": {
    "x": {"field": "x", "type": "quantitative", "scale": {"domain": [28, 34], "nice": false, "zero": false},
          "axis": {"orient": "bottom", "values": [28, 29, 30, 31, 32, 33, 34], "tickSize": -5, "labelPadding": 10, "labelFontSize": 12.5, "title": "2Θ [°]", "titleFontSize": 13, "titlePadding": 10}},
    "y": {"field": "y", "type": "quantitative", "scale": {"domain": [0, 22000], "nice": false},
          "axis": {"orient": "left", "values": [0, 5000, 10000, 15000, 20000], "format": "d", "tickSize": -5, "labelPadding": 16, "labelFontSize": 12.5, "title": "Rel. Intensität", "titleFontSize": 13, "titlePadding": 11}},
    "color": {"field": "s", "type": "nominal", "scale": {"domain": ["T1.6K", "T1.9K", "T2.1K", "T2.2K", "T2.4K", "T2.6K", "T2.8K"], "range": ["#800000", "#ff00ff", "#ff0000", "#00ff00", "#0000ff", "#00ffff", "#000000"]}, "legend": null}
   }},
  {"data": {"name": "L"},
   "mark": {"type": "point", "filled": true, "size": 14, "opacity": 1, "clip": true},
   "encoding": {
    "x": {"field": "x", "type": "quantitative", "axis": {"orient": "bottom", "values": [28.5, 29.5, 30.5, 31.5, 32.5, 33.5], "tickSize": -3, "labels": false, "title": null}},
    "y": {"field": "y", "type": "quantitative", "axis": {"orient": "left", "values": [2500, 7500, 12500, 17500], "tickSize": -3, "labels": false, "title": null}},
    "color": {"field": "s", "type": "nominal", "legend": null},
    "shape": {"field": "s", "type": "nominal", "scale": {"domain": ["T1.6K", "T1.9K", "T2.1K", "T2.2K", "T2.4K", "T2.6K", "T2.8K"], "range": ["M0,-1L0.235,-0.324L0.951,-0.309L0.38,0.124L0.588,0.809L0,0.4L-0.588,0.809L-0.38,0.124L-0.951,-0.309L-0.235,-0.324Z", "triangle-left", "circle", "triangle-up", "triangle-down", "circle", "square"]}, "legend": null}
   }},
  {"data": {"values": [{"x": 31.51, "y": 19790, "t": "(0 1 1) - τ"}, {"x": 29.72, "y": 6660, "t": "(1 1 0) - τ"}, {"x": 29.4, "y": 3320, "t": "(1 0 1) - τ"}]},
   "mark": {"type": "text", "fontSize": 13, "font": "Liberation Sans", "color": "black", "align": "center", "baseline": "middle"},
   "encoding": {
    "x": {"field": "x", "type": "quantitative", "axis": {"orient": "top", "values": [28, 29, 30, 31, 32, 33, 34], "tickSize": -5, "labels": false, "title": null}},
    "y": {"field": "y", "type": "quantitative", "axis": {"orient": "right", "values": [0, 5000, 10000, 15000, 20000], "tickSize": -5, "labels": false, "title": null}},
    "text": {"field": "t"}
   }},
  {"data": {"values": [{"id": "a1", "x": 31.41, "y": 18910, "x2": 31.28, "y2": 17970}, {"id": "a2", "x": 30.08, "y": 5520, "x2": 30.48, "y2": 4170}, {"id": "a3", "x": 29.61, "y": 2760, "x2": 29.67, "y2": 1510}]},
   "mark": {"type": "rule", "color": "black", "strokeWidth": 1},
   "encoding": {
    "x": {"field": "x", "type": "quantitative", "axis": {"orient": "top", "values": [28.5, 29.5, 30.5, 31.5, 32.5, 33.5], "tickSize": -3, "labels": false, "title": null}},
    "y": {"field": "y", "type": "quantitative", "axis": {"orient": "right", "values": [2500, 7500, 12500, 17500], "tickSize": -3, "labels": false, "title": null}},
    "x2": {"field": "x2"}, "y2": {"field": "y2"}
   }},
  {"data": {"values": [{"id": "a1", "x": 31.28, "y": 17970}, {"id": "a2", "x": 30.48, "y": 4170}, {"id": "a3", "x": 29.67, "y": 1510}]},
   "mark": {"type": "point", "shape": "triangle-up", "filled": true, "color": "black", "size": 22, "opacity": 1},
   "encoding": {
    "x": {"field": "x", "type": "quantitative", "axis": null},
    "y": {"field": "y", "type": "quantitative", "axis": null},
    "angle": {"condition": [{"test": "datum.id == 'a1'", "value": 214}, {"test": "datum.id == 'a2'", "value": 125}], "value": 166}
   }},
  {"data": {"values": [{"s": "T1.6K"}, {"s": "T1.9K"}, {"s": "T2.1K"}, {"s": "T2.2K"}, {"s": "T2.4K"}, {"s": "T2.6K"}, {"s": "T2.8K"}]},
   "mark": {"type": "point", "opacity": 0},
   "encoding": {
    "fill": {"field": "s", "type": "nominal", "scale": {"domain": ["T1.6K", "T1.9K", "T2.1K", "T2.2K", "T2.4K", "T2.6K", "T2.8K"], "range": ["#800000", "#ff00ff", "#ff0000", "#00ff00", "#0000ff", "#00ffff", "#000000"]}, "legend": {"title": null}},
    "stroke": {"field": "s", "type": "nominal", "scale": {"domain": ["T1.6K", "T1.9K", "T2.1K", "T2.2K", "T2.4K", "T2.6K", "T2.8K"], "range": ["#800000", "#ff00ff", "#ff0000", "#00ff00", "#0000ff", "#00ffff", "#000000"]}, "legend": {"title": null}},
    "shape": {"field": "s", "type": "nominal",
     "scale": {"domain": ["T1.6K", "T1.9K", "T2.1K", "T2.2K", "T2.4K", "T2.6K", "T2.8K"],
      "range": ["M-1,0H1.1M2.24,0H4.33M1.67,-0.5L1.788,-0.162L2.146,-0.155L1.86,0.062L1.964,0.405L1.67,0.2L1.376,0.405L1.48,0.062L1.194,-0.155L1.552,-0.162Z",
       "M-1,0H1.1M2.24,0H4.33M1.25,0L2.03,-0.42L2.03,0.42Z",
       "M2.03,0A0.36,0.36,0,1,1,1.31,0A0.36,0.36,0,1,1,2.03,0Z",
       "M1.67,-0.42L2.09,0.36L1.25,0.36Z",
       "M1.67,0.42L2.09,-0.36L1.25,-0.36Z",
       "M-1,0H1.1M2.24,0H4.33M2.03,0A0.36,0.36,0,1,1,1.31,0A0.36,0.36,0,1,1,2.03,0Z",
       "M1.35,-0.32H1.99V0.32H1.35Z"]},
     "legend": {"title": null, "orient": "none", "legendX": 22, "legendY": 28, "symbolSize": 144, "labelFontSize": 12, "labelOffset": 22, "rowPadding": 3, "padding": 7,
      "encode": {"symbols": {"update": {"opacity": {"value": 1}, "strokeWidth": {"value": 1}}}}}
    }
   }}
 ]
},
{
 "width": 432, "height": 312,
 "title": {"text": "TbCu₂: SE 440 - E6", "fontSize": 17, "offset": 10, "dx": 18},
 "resolve": {"axis": {"x": "independent", "y": "independent"}, "scale": {"shape": "independent", "fill": "independent", "stroke": "independent"}, "legend": {"shape": "independent", "fill": "independent", "stroke": "independent"}},
 "layer": [
  {"data": {"name": "R"},
   "mark": {"type": "line", "interpolate": "monotone", "strokeWidth": 1.2, "clip": true},
   "encoding": {
    "x": {"field": "x", "type": "quantitative", "scale": {"domain": [46, 54], "nice": false, "zero": false},
          "axis": {"orient": "bottom", "values": [46, 47, 48, 49, 50, 51, 52, 53, 54], "tickSize": -6, "labelPadding": 15, "labelFontSize": 17, "title": "2Θ [°]", "titleFontSize": 18, "titlePadding": 13}},
    "y": {"field": "y", "type": "quantitative", "scale": {"domain": [0, 2000], "nice": false},
          "axis": {"orient": "left", "values": [0, 1000, 2000], "format": "d", "labelExpr": "datum.value == 1000 ? '' : datum.label", "tickSize": -6, "labelPadding": 15, "labelFontSize": 17, "title": "Rel. Intensität", "titleFontSize": 18, "titlePadding": 12}},
    "color": {"field": "s", "type": "nominal", "scale": {"domain": ["T1.6K", "T1.9K", "T2.1K", "T2.2K", "T2.4K", "T2.6K", "T2.8K"], "range": ["#000000", "#000080", "#800000", "#0000ff", "#00ff00", "#00ffff", "#ff00ff"]}, "legend": null}
   }},
  {"data": {"name": "R"},
   "mark": {"type": "point", "filled": true, "size": 24, "opacity": 1, "clip": true},
   "encoding": {
    "x": {"field": "x", "type": "quantitative", "axis": {"orient": "bottom", "values": [46.5, 47.5, 48.5, 49.5, 50.5, 51.5, 52.5, 53.5], "tickSize": -3, "labels": false, "title": null}},
    "y": {"field": "y", "type": "quantitative", "axis": null},
    "color": {"field": "s", "type": "nominal", "legend": null},
    "shape": {"field": "s", "type": "nominal", "scale": {"domain": ["T1.6K", "T1.9K", "T2.1K", "T2.2K", "T2.4K", "T2.6K", "T2.8K"], "range": ["M0,-1L0.235,-0.324L0.951,-0.309L0.38,0.124L0.588,0.809L0,0.4L-0.588,0.809L-0.38,0.124L-0.951,-0.309L-0.235,-0.324Z", "triangle-left", "circle", "triangle-up", "triangle-down", "circle", "square"]}, "legend": null}
   }},
  {"data": {"values": [{"x": 52.55, "y": 1795, "t": "(1 1 2) - τ"}, {"x": 49.4, "y": 1205, "t": "(1 1 0) +τ"}, {"x": 52.82, "y": 1117, "t": "(1 2 1) -  τ"}, {"x": 47.2, "y": 115, "t": "(1 2 1) - 3τ"}, {"x": 49.38, "y": 115, "t": "(1 0 1) - τ"}, {"x": 52.3, "y": 115, "t": "(0 0 2) - 3τ"}]},
   "mark": {"type": "text", "fontSize": 18, "font": "Liberation Sans", "color": "black", "align": "center", "baseline": "middle"},
   "encoding": {
    "x": {"field": "x", "type": "quantitative", "axis": {"orient": "top", "values": [46, 47, 48, 49, 50, 51, 52, 53, 54], "tickSize": -6, "labels": false, "title": null}},
    "y": {"field": "y", "type": "quantitative", "axis": {"orient": "right", "values": [0, 1000, 2000], "tickSize": -6, "labels": false, "title": null}},
    "text": {"field": "t"}
   }},
  {"data": {"values": [{"id": "b1", "x": 51.55, "y": 1806, "x2": 51.27, "y2": 1880}, {"id": "b2", "x": 49.48, "y": 1165, "x2": 49.79, "y2": 1047}, {"id": "b3", "x": 52.68, "y": 1026, "x2": 52.68, "y2": 878}, {"id": "b4", "x": 47.15, "y": 213, "x2": 47.12, "y2": 320}, {"id": "b5", "x": 49.31, "y": 245, "x2": 49.26, "y2": 320}, {"id": "b6", "x": 52.28, "y": 256, "x2": 52.24, "y2": 342}]},
   "mark": {"type": "rule", "color": "black", "strokeWidth": 1.2},
   "encoding": {
    "x": {"field": "x", "type": "quantitative", "axis": {"orient": "top", "values": [46.5, 47.5, 48.5, 49.5, 50.5, 51.5, 52.5, 53.5], "tickSize": -3, "labels": false, "title": null}},
    "y": {"field": "y", "type": "quantitative", "axis": null},
    "x2": {"field": "x2"}, "y2": {"field": "y2"}
   }},
  {"data": {"values": [{"id": "b1", "x": 51.27, "y": 1880}, {"id": "b2", "x": 49.79, "y": 1047}, {"id": "b3", "x": 52.68, "y": 878}, {"id": "b4", "x": 47.12, "y": 320}, {"id": "b5", "x": 49.26, "y": 320}, {"id": "b6", "x": 52.24, "y": 342}]},
   "mark": {"type": "point", "shape": "triangle-up", "filled": true, "color": "black", "size": 30, "opacity": 1},
   "encoding": {
    "x": {"field": "x", "type": "quantitative", "axis": null},
    "y": {"field": "y", "type": "quantitative", "axis": null},
    "angle": {"condition": [{"test": "datum.id == 'b1'", "value": 308}, {"test": "datum.id == 'b2'", "value": 138}, {"test": "datum.id == 'b3'", "value": 180}, {"test": "datum.id == 'b4'", "value": 354}, {"test": "datum.id == 'b5'", "value": 347}], "value": 350}
   }},
  {"data": {"values": [{"s": "T1.6K"}, {"s": "T1.9K"}, {"s": "T2.1K"}, {"s": "T2.2K"}, {"s": "T2.4K"}, {"s": "T2.6K"}, {"s": "T2.8K"}]},
   "mark": {"type": "point", "opacity": 0},
   "encoding": {
    "fill": {"field": "s", "type": "nominal", "scale": {"domain": ["T1.6K", "T1.9K", "T2.1K", "T2.2K", "T2.4K", "T2.6K", "T2.8K"], "range": ["#000000", "#000080", "#800000", "#0000ff", "#00ff00", "#00ffff", "#ff00ff"]}, "legend": {"title": null}},
    "stroke": {"field": "s", "type": "nominal", "scale": {"domain": ["T1.6K", "T1.9K", "T2.1K", "T2.2K", "T2.4K", "T2.6K", "T2.8K"], "range": ["#000000", "#000080", "#800000", "#0000ff", "#00ff00", "#00ffff", "#ff00ff"]}, "legend": {"title": null}},
    "shape": {"field": "s", "type": "nominal",
     "scale": {"domain": ["T1.6K", "T1.9K", "T2.1K", "T2.2K", "T2.4K", "T2.6K", "T2.8K"],
      "range": ["M-1,0H1.1M2.24,0H4.33M1.67,-0.5L1.788,-0.162L2.146,-0.155L1.86,0.062L1.964,0.405L1.67,0.2L1.376,0.405L1.48,0.062L1.194,-0.155L1.552,-0.162Z",
       "M-1,0H1.1M2.24,0H4.33M1.25,0L2.03,-0.42L2.03,0.42Z",
       "M-1,0H1.1M2.24,0H4.33M2.03,0A0.36,0.36,0,1,1,1.31,0A0.36,0.36,0,1,1,2.03,0Z",
       "M-1,0H1.1M2.24,0H4.33M1.67,-0.42L2.09,0.36L1.25,0.36Z",
       "M-1,0H1.1M2.24,0H4.33M1.67,0.42L2.09,-0.36L1.25,-0.36Z",
       "M-1,0H1.1M2.24,0H4.33M2.03,0A0.36,0.36,0,1,1,1.31,0A0.36,0.36,0,1,1,2.03,0Z",
       "M-1,0H1.1M2.24,0H4.33M1.35,-0.32H1.99V0.32H1.35Z"]},
     "legend": {"title": null, "orient": "none", "legendX": 11, "legendY": 10, "symbolSize": 289, "labelFontSize": 17, "labelOffset": 30, "rowPadding": 5.5, "padding": 9,
      "encode": {"symbols": {"update": {"opacity": {"value": 1}, "strokeWidth": {"value": 1}}}}}
    }
   }}
 ]
}
]
}
